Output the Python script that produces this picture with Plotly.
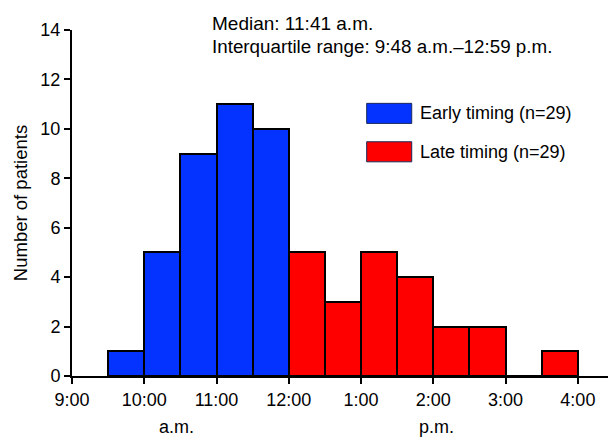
import plotly.graph_objects as go

# Bin starts (decimal hours, 24h clock), 30-minute bins
early_bin_start = [9.5, 10.0, 10.5, 11.0, 11.5]
early_counts = [1, 5, 9, 11, 10]
late_bin_start = [12.0, 12.5, 13.0, 13.5, 14.0, 14.5, 15.0, 15.5]
late_counts = [5, 3, 5, 4, 2, 2, 0, 1]

tick_vals = [9, 10, 11, 12, 13, 14, 15, 16]
tick_text = ["9:00", "10:00", "11:00", "12:00", "1:00", "2:00", "3:00", "4:00"]

early_name = "Early timing (n=29)"
late_name = "Late timing (n=29)"
median_text = "Median: 11:41 a.m."
iqr_text = "Interquartile range: 9:48 a.m.\u201312:59 p.m."

FONT = "Liberation Sans, Arial, Helvetica, sans-serif"
BLUE = "#0433FF"
RED = "#FF0000"

fig = go.Figure()
fig.add_trace(go.Bar(x=early_bin_start, y=early_counts, width=0.5, offset=0,
                     marker=dict(color=BLUE, line=dict(color="black", width=2)),
                     name=early_name, showlegend=False))
fig.add_trace(go.Bar(x=late_bin_start, y=late_counts, width=0.5, offset=0,
                     marker=dict(color=RED, line=dict(color="black", width=2)),
                     name=late_name, showlegend=False))

# legend drawn manually (wide rectangles)
legend_rows = [(early_name, BLUE, 0.788, 0.730), (late_name, RED, 0.677, 0.619)]
for name, col, ytop, ybot in legend_rows:
    fig.add_shape(type="rect", xref="paper", yref="paper",
                  x0=0.5437, x1=0.6268, y0=ybot, y1=ytop,
                  fillcolor=col, line=dict(color="#1a2a5a", width=1))
    fig.add_annotation(xref="paper", yref="paper", x=0.638, y=(ytop + ybot) / 2,
                       text=name, showarrow=False, xanchor="left", yanchor="middle",
                       font=dict(size=18, color="black", family=FONT))

fig.add_annotation(xref="paper", yref="paper", x=0.255, y=1.019, text=median_text,
                   showarrow=False, xanchor="left", yanchor="middle",
                   font=dict(size=19, color="black", family=FONT))
fig.add_annotation(xref="paper", yref="paper", x=0.255, y=0.951, text=iqr_text,
                   showarrow=False, xanchor="left", yanchor="middle",
                   font=dict(size=18.8, color="black", family=FONT))

fig.add_annotation(xref="x", yref="paper", x=10.45, y=-0.147, text="a.m.",
                   showarrow=False, yanchor="middle",
                   font=dict(size=18, color="black", family=FONT))
fig.add_annotation(xref="x", yref="paper", x=14.05, y=-0.147, text="p.m.",
                   showarrow=False, yanchor="middle",
                   font=dict(size=18, color="black", family=FONT))

# page body has an 8px margin; margins compensate so the plot area sits as in the reference
fig.update_layout(
    width=616, height=440,
    margin=dict(l=64, r=10, t=22, b=72),
    plot_bgcolor="white", paper_bgcolor="white",
    bargap=0,
    font=dict(family=FONT, size=18, color="black"),
    xaxis=dict(range=[9, 16.5], tickvals=tick_vals, ticktext=tick_text,
               showline=True, linecolor="black", linewidth=2,
               ticks="outside", ticklen=6, tickwidth=2, tickcolor="black",
               showgrid=False, zeroline=False, fixedrange=True, automargin=False),
    yaxis=dict(range=[0, 14], tickvals=list(range(0, 15, 2)),
               showline=True, linecolor="black", linewidth=2,
               ticks="outside", ticklen=6, tickwidth=2, tickcolor="black",
               showgrid=False, zeroline=False, fixedrange=True, automargin=False,
               title=dict(text="Number of patients", standoff=8,
                          font=dict(size=18.5, family=FONT))),
)

fig.write_html("out.html")
